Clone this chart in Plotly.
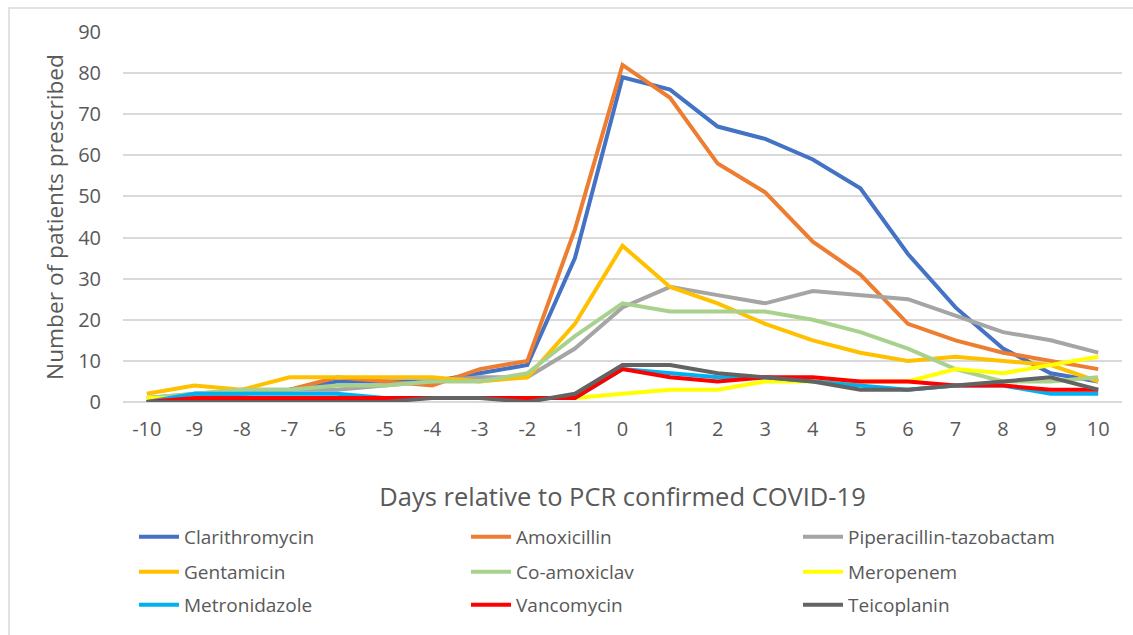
import plotly.graph_objects as go

days = [str(d) for d in range(-10, 11)]

clarithromycin = [0, 2, 2, 3, 5, 5, 5, 7, 9, 35, 79, 76, 67, 64, 59, 52, 36, 23, 13, 7, 5]
amoxicillin = [0, 1, 2, 3, 6, 5, 4, 8, 10, 42, 82, 74, 58, 51, 39, 31, 19, 15, 12, 10, 8]
piperacillin_tazobactam = [1, 2, 3, 3, 3, 4, 5, 6, 6, 13, 23, 28, 26, 24, 27, 26, 25, 21, 17, 15, 12]
gentamicin = [2, 4, 3, 6, 6, 6, 6, 5, 6, 19, 38, 28, 24, 19, 15, 12, 10, 11, 10, 9, 5]
co_amoxiclav = [1, 2, 3, 3, 4, 4, 5, 5, 7, 16, 24, 22, 22, 22, 20, 17, 13, 8, 5, 5, 6]
meropenem = [1, 1, 1, 1, 1, 1, 1, 1, 1, 1, 2, 3, 3, 5, 5, 5, 5, 8, 7, 9, 11]
metronidazole = [0, 2, 2, 2, 2, 1, 1, 1, 1, 1, 8, 7, 6, 6, 5, 4, 3, 4, 4, 2, 2]
vancomycin = [0, 1, 1, 1, 1, 1, 1, 1, 1, 1, 8, 6, 5, 6, 6, 5, 5, 4, 4, 3, 3]
teicoplanin = [0, 0, 0, 0, 0, 0, 1, 1, 0, 2, 9, 9, 7, 6, 5, 3, 3, 4, 5, 6, 3]

series = [
    ("Clarithromycin", clarithromycin, "#4472C4", "legend"),
    ("Amoxicillin", amoxicillin, "#ED7D31", "legend"),
    ("Piperacillin-tazobactam", piperacillin_tazobactam, "#A5A5A5", "legend"),
    ("Gentamicin", gentamicin, "#FFC000", "legend2"),
    ("Co-amoxiclav", co_amoxiclav, "#A9D18E", "legend2"),
    ("Meropenem", meropenem, "#FFFF00", "legend2"),
    ("Metronidazole", metronidazole, "#00B0F0", "legend3"),
    ("Vancomycin", vancomycin, "#FF0000", "legend3"),
    ("Teicoplanin", teicoplanin, "#636363", "legend3"),
]

FONT = "Open Sans"
TXT = "#595959"

fig = go.Figure()
for name, vals, color, leg in series:
    fig.add_trace(go.Scatter(
        x=days, y=vals, name=name, mode="lines",
        line=dict(color=color, width=4),
        legend=leg,
    ))

L, R, T, B = 123, 11, 32, 233
W, H = 1133, 635
pw = W - L - R
ph = H - T - B

def px_x(p):
    return (p - L) / pw

def px_y(p):
    return (H - B - p) / ph

legend_common = dict(
    orientation="h", xanchor="left", yanchor="middle",
    xref="container", yref="container",
    entrywidth=277, entrywidthmode="pixels",
    font=dict(family=FONT, size=19, color=TXT),
    bgcolor="rgba(0,0,0,0)", itemwidth=40,
)

fig.update_layout(
    width=W, height=H,
    margin=dict(l=L, r=R, t=T, b=B, autoexpand=False),
    paper_bgcolor="white", plot_bgcolor="white",
    font=dict(family=FONT, color=TXT),
    legend=dict(x=134 / W, y=1 - 537 / H, **legend_common),
    legend2=dict(x=134 / W, y=1 - 572 / H, **legend_common),
    legend3=dict(x=134 / W, y=1 - 605 / H, **legend_common),
    xaxis=dict(
        type="category", range=[-0.5, 20.5], automargin=False,
        showgrid=False, showline=False, zeroline=False,
        tickfont=dict(family=FONT, size=20, color=TXT),
        ticklabelstandoff=13,
        title=dict(text="Days relative to PCR confirmed COVID-19",
                   font=dict(family=FONT, size=25.5, color=TXT), standoff=47),
    ),
    yaxis=dict(
        range=[0, 90], dtick=10, automargin=False,
        showgrid=True, gridcolor="#D9D9D9", gridwidth=1.5,
        zeroline=True, zerolinecolor="#D9D9D9", zerolinewidth=1.5,
        showline=False,
        tickfont=dict(family=FONT, size=20, color=TXT),
        ticklabelstandoff=21,
        title=dict(text="Number of patients prescribed",
                   font=dict(family=FONT, size=22.7, color=TXT), standoff=8),
    ),
    shapes=[dict(
        type="rect", xref="paper", yref="paper",
        x0=px_x(9), x1=px_x(1160), y0=px_y(660), y1=px_y(8),
        line=dict(color="#D9D9D9", width=1.5), fillcolor="rgba(0,0,0,0)",
        layer="below",
    )],
)

fig.write_html("out.html", config={"displayModeBar": False},
               post_script="document.body.style.margin='0px';document.body.style.overflow='hidden';")
